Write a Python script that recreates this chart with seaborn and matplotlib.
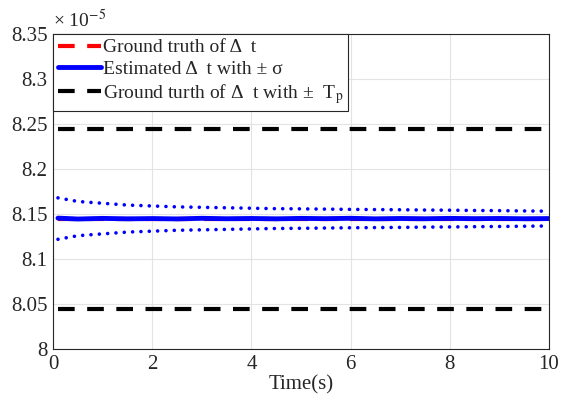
import numpy as np
import pandas as pd
import matplotlib
matplotlib.use('Agg')
import matplotlib.pyplot as plt
import seaborn as sns

# values in units of 1e-5 s
t = [0.1, 0.5, 1, 1.5, 2, 2.5, 3, 3.5, 4, 4.5, 5, 5.5, 6, 6.5, 7, 7.5, 8, 8.5, 9, 9.5, 10]
gt = 8.145
tp = 0.1
est = [8.1455, 8.1445, 8.1452, 8.1447, 8.1450, 8.1446, 8.1453, 8.1448, 8.1451, 8.1447,
       8.1452, 8.1449, 8.1453, 8.1447, 8.1451, 8.1448, 8.1452, 8.1449, 8.1451, 8.1448, 8.1450]
upper = [8.168, 8.164, 8.162, 8.160, 8.159, 8.158, 8.1575, 8.157, 8.1565, 8.156,
         8.1558, 8.1555, 8.1552, 8.155, 8.1548, 8.1545, 8.1543, 8.154, 8.1538, 8.1535, 8.1532]
lower = [8.122, 8.126, 8.128, 8.130, 8.131, 8.132, 8.1325, 8.133, 8.1335, 8.134,
         8.1342, 8.1345, 8.1348, 8.135, 8.1352, 8.1355, 8.1357, 8.136, 8.1362, 8.1365, 8.1368]

df = pd.DataFrame({'t': t, 'est': est, 'upper': upper, 'lower': lower})
df['gt'] = gt
df['hi'] = gt + tp
df['lo'] = gt - tp

sns.set_style('whitegrid')
plt.rcParams['font.family'] = ['Liberation Serif', 'DejaVu Serif']
plt.rcParams['mathtext.fontset'] = 'stix'

fig = plt.figure(figsize=(5.61, 4.05), dpi=100)
ax = fig.add_axes([0.0945, 0.138, 0.884, 0.778])

dash = (0, (4, 3))
sns.lineplot(data=df, x='t', y='gt', ax=ax, color='red', lw=3, linestyle=dash,
             label='Ground truth of Δ  t')
sns.lineplot(data=df, x='t', y='est', ax=ax, color='blue', lw=3.5,
             label='Estimated Δ  t with ± σ')
sns.lineplot(data=df, x='t', y='hi', ax=ax, color='black', lw=3, linestyle=dash,
             label='Ground turth of Δ  t with ±  T$_\\mathrm{p}$')
sns.lineplot(data=df, x='t', y='lo', ax=ax, color='black', lw=3, linestyle=dash)
for col in ['upper', 'lower']:
    sns.lineplot(data=df, x='t', y=col, ax=ax, color='blue', lw=2.6,
                 linestyle=(0, (0.01, 2.3)), dash_capstyle='round')

ax.set_xlim(0, 10)
ax.set_ylim(8.0, 8.35)
ax.set_xticks([0, 2, 4, 6, 8, 10])
ax.set_yticks([8, 8.05, 8.1, 8.15, 8.2, 8.25, 8.3, 8.35])
ax.set_yticklabels(['8', '8.05', '8.1', '8.15', '8.2', '8.25', '8.3', '8.35'])
ax.set_xlabel('Time(s)', fontsize=15, labelpad=1, color='#262626')
ax.set_ylabel('')
ax.tick_params(labelsize=15, direction='in', length=4, colors='#262626', pad=4)
ax.grid(True, color='#e3e3e3', lw=0.8)
for s in ax.spines.values():
    s.set_color('#262626')
    s.set_linewidth(0.8)

ax.text(0.0, 1.008, '× 10$^{-5}$', transform=ax.transAxes, fontsize=14, va='bottom', ha='left',
        color='#262626')

leg = ax.legend(loc='upper left', fontsize=14, frameon=True, fancybox=False,
                borderaxespad=0, handlelength=2.2, handletextpad=0.1,
                labelspacing=0.2, borderpad=0.25)
leg.get_frame().set_edgecolor('#262626')
leg.get_frame().set_linewidth(0.8)
leg.get_frame().set_alpha(1)

fig.savefig('out.png', dpi=100)
